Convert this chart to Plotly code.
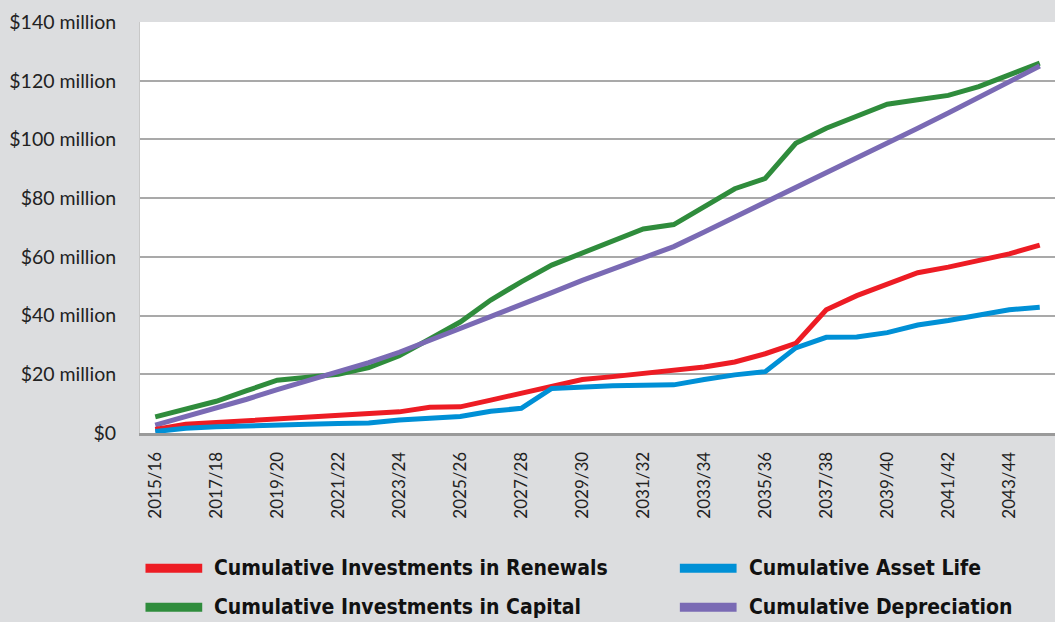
import plotly.graph_objects as go

# financial years on the x axis
years = [f"{y}/{str(y + 1)[-2:]}" for y in range(2015, 2045)]

# cumulative values, $ million
renewals = [1.2, 3.0, 3.6, 4.2, 4.8, 5.8, 6.2, 6.7, 7.2, 8.8,
            8.9, 11.2, 13.5, 15.8, 18.2, 19.2, 20.2, 21.2, 22.5, 24.2,
            27.0, 30.5, 42.0, 46.8, 50.6, 54.6, 56.5, 58.6, 61.0, 64.0]
asset_life = [0.5, 1.6, 2.1, 2.5, 2.8, 3.0, 3.2, 3.4, 4.4, 5.0,
              5.6, 7.4, 8.4, 15.2, 15.8, 16.1, 16.3, 16.4, 18.2, 19.8,
              20.9, 29.0, 32.6, 32.7, 34.2, 36.8, 38.3, 40.2, 42.0, 42.8]
capital = [5.5, 8.0, 10.8, 14.4, 18.0, 19.0, 20.0, 22.3, 26.3, 32.0,
           37.8, 45.3, 51.5, 57.2, 61.2, 65.2, 69.5, 71.0, 77.0, 83.2,
           86.7, 98.7, 103.8, 107.7, 112.0, 113.5, 115.0, 118.0, 122.0, 126.0]
depreciation = [2.7, 5.5, 8.5, 11.5, 14.8, 17.8, 21.0, 24.0, 27.5, 31.5,
                35.5, 39.5, 43.5, 47.8, 52.0, 55.8, 59.6, 63.5, 68.5, 73.5,
                78.5, 83.5, 88.5, 93.5, 98.7, 103.8, 109.0, 114.2, 119.6, 125.0]

names = ["Cumulative Investments in Renewals", "Cumulative Asset Life",
         "Cumulative Investments in Capital", "Cumulative Depreciation"]
colors = ["#ed1c24", "#0090d6", "#2f8c3c", "#7a6ab4"]
series = [renewals, asset_life, capital, depreciation]

y_ticks = [0, 20, 40, 60, 80, 100, 120, 140]
y_labels = ["$0"] + [f"${v} million" for v in y_ticks[1:]]

fig = go.Figure()

# draw order: back to front like the original
for i in [2, 3, 0, 1]:
    fig.add_trace(go.Scatter(
        x=years, y=series[i], mode="lines", name=names[i],
        line=dict(color=colors[i], width=5),
        showlegend=False,
    ))

# hand-made legend, two columns
legend_pos = [(0.002, -0.329), (0.586, -0.329), (0.002, -0.424), (0.586, -0.424)]
for (lx, ly), name, col in zip(legend_pos, names, colors):
    fig.add_shape(type="line", xref="paper", yref="paper",
                  x0=lx + 0.004, x1=lx + 0.066, y0=ly, y1=ly,
                  line=dict(color=col, width=9))
    fig.add_annotation(xref="paper", yref="paper", x=lx + 0.077, y=ly,
                       text=f"<b>{name}</b>", showarrow=False,
                       xanchor="left", yanchor="middle",
                       font=dict(family="Liberation Sans Narrow, DejaVu Sans Condensed, sans-serif",
                                 size=21, color="#111111"))

fig.update_layout(
    width=1055, height=622,
    margin=dict(l=140, r=0, t=22, b=189),
    paper_bgcolor="#dcdddf",
    plot_bgcolor="#ffffff",
    showlegend=False,
    font=dict(family="Lato, sans-serif", color="#222222"),
)

fig.update_xaxes(
    type="category", range=[-0.5, 29.5],
    tickvals=years[::2], ticktext=years[::2],
    tickangle=-90, tickfont=dict(size=17, family="Lato, sans-serif"),
    showgrid=False, showline=True, linecolor="#9a9a9a", linewidth=3,
    ticks="", ticklabelstandoff=9,
)
fig.update_yaxes(
    range=[0, 140], tickvals=y_ticks, ticktext=y_labels,
    tickfont=dict(size=19.5, family="Lato, sans-serif"),
    showgrid=True, gridcolor="#a9a9a9", gridwidth=1.5,
    zeroline=False, showline=True, linecolor="#c8c8c8", linewidth=1,
    ticks="", ticklabelstandoff=19,
)

# drop the page's default body margin so the figure sits at the top-left corner
fig.write_html("out.html", config={"displayModeBar": False},
               post_script="document.body.style.margin='0';")
